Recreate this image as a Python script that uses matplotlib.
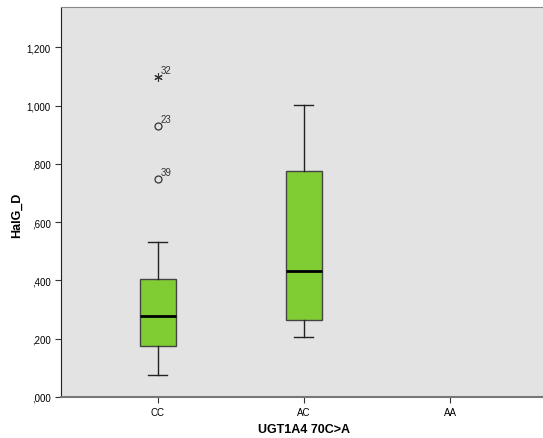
import numpy as np
import matplotlib.pyplot as plt

plt.rcParams['font.family'] = ['Liberation Sans', 'DejaVu Sans']

groups = ['CC', 'AC', 'AA']
q1 = [0.175, 0.264]
median = [0.278, 0.432]
q3 = [0.405, 0.775]
whislo = [0.075, 0.206]
whishi = [0.531, 1.001]

# outliers of CC: (value, case id, extreme?)
out_vals = [0.748, 0.929, 1.097]
out_ids = ['39', '23', '32']
out_extreme = [False, False, True]

yticks = [0, 0.2, 0.4, 0.6, 0.8, 1.0, 1.2]
ytick_labels = [',000', ',200', ',400', ',600', ',800', '1,000', '1,200']

fig = plt.figure(figsize=(5.43, 4.39), dpi=100)
ax = fig.add_axes([61/543, 1 - 398/439, (543 - 61)/543, 390/439])
ax.set_facecolor('#e3e3e3')

stats = []
for i in range(len(q1)):
    stats.append(dict(med=median[i], q1=q1[i], q3=q3[i],
                      whislo=whislo[i], whishi=whishi[i], fliers=[]))

ax.bxp(stats, positions=range(len(q1)), widths=0.25, patch_artist=True,
       boxprops=dict(facecolor='#80cc33', edgecolor='#444444', linewidth=1),
       medianprops=dict(color='black', linewidth=2),
       whiskerprops=dict(color='#222222', linewidth=1),
       capprops=dict(color='#222222', linewidth=1),
       capwidths=0.13, manage_ticks=False)

for v, lab, ext in zip(out_vals, out_ids, out_extreme):
    if ext:
        ax.plot(0, v, marker=(6, 2, 0), ms=6, mec='#333333', mew=0.8)
    else:
        ax.plot(0, v, marker='o', ms=5, mfc='none', mec='#333333', mew=0.9)
    ax.annotate(lab, (0, v), xytext=(2, 3), textcoords='offset points',
                fontsize=7, color='#333333')

ax.set_xlim(-0.664, 2.637)
ax.set_ylim(0, 1.338)
ax.set_xticks(range(len(groups)))
ax.set_xticklabels(groups, fontsize=7)
ax.set_yticks(yticks)
ax.set_yticklabels(ytick_labels, fontsize=7)
ax.tick_params(axis='both', direction='out', length=4, width=0.8, color='#333333')

ax.spines['right'].set_visible(False)
ax.spines['top'].set_color('#888888')
ax.spines['bottom'].set_color('#777777')
ax.spines['bottom'].set_linewidth(1.5)
ax.spines['left'].set_color('#222222')

fig.text(304/543, 1 - 430/439, 'UGT1A4 70C>A', fontsize=9, fontweight='bold',
         ha='center', va='center')
fig.text(17/543, 1 - 215/439, 'HalG_D', fontsize=9, fontweight='bold',
         ha='center', va='center', rotation=90)

fig.savefig('out.png', dpi=100)
